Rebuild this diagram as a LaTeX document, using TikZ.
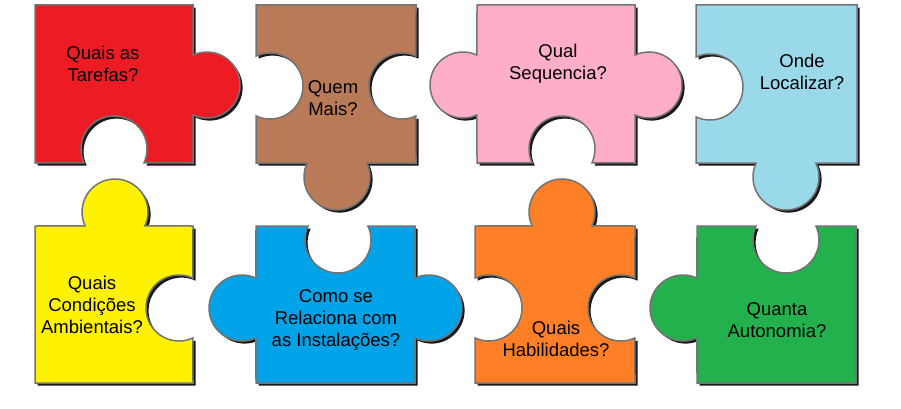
\documentclass[tikz,border=0pt]{standalone}
\usepackage{fontspec}
\setmainfont{Liberation Sans}
\usetikzlibrary{calc,shadows}
\tikzset{
  piece/.style={fill=#1, draw=black!55, line width=1.5pt,
    drop shadow={shadow xshift=2.6pt, shadow yshift=-2.6pt, fill=black!90, opacity=1}},
  jigtab/.style 2 args={insert path={-- ($(#1)+(#2-115:33)$) arc[start angle=#2-115, end angle=#2+115, radius=33]}},
  jignotch/.style 2 args={insert path={-- ($(#1)+(#2-65:33)$) arc[start angle=#2-65, end angle=#2-295, radius=33]}},
  question/.style={align=center, font=\fontsize{18.5}{22}\selectfont},
}
\begin{document}
\begin{tikzpicture}[x=1pt,y=1pt]
\definecolor{color1}{RGB}{237,28,36}
\definecolor{color2}{RGB}{185,122,87}
\definecolor{color3}{RGB}{255,174,201}
\definecolor{color4}{RGB}{153,217,234}
\definecolor{color5}{RGB}{255,242,0}
\definecolor{color6}{RGB}{0,162,232}
\definecolor{color7}{RGB}{255,127,39}
\definecolor{color8}{RGB}{34,177,76}
\useasboundingbox (0,0) rectangle (901,408);
% top row
\draw[piece=color1] (35,245) [jignotch={114,259}{-90}] -- (193,245) [jigtab={207,323}{0}] -- (193,403) -- (35,403) -- cycle;
\draw[piece=color2] (256,245) [jigtab={337,231}{-90}] -- (416,245) [jignotch={402,322}{0}] -- (416,403) -- (256,403) [jignotch={270,322}{180}] -- cycle;
\draw[piece=color3] (477,245) [jignotch={562,259}{-90}] -- (635,245) [jigtab={649,323}{0}] -- (635,403) -- (477,403) [jigtab={463,323}{180}] -- cycle;
\draw[piece=color4] (696,245) [jigtab={786,231}{-90}] -- (857,245) -- (857,403) -- (696,403) [jignotch={710,321}{180}] -- cycle;
% bottom row
\draw[piece=color5] (35,25) -- (193,25) [jignotch={179,100}{0}] -- (193,182) [jigtab={115,196}{90}] -- (35,182) -- cycle;
\draw[piece=color6] (256,25) -- (415,25) [jigtab={429,100}{0}] -- (415,182) [jignotch={338,168}{90}] -- (256,182) [jigtab={242,100}{180}] -- cycle;
\draw[piece=color7] (475,25) -- (635,25) [jignotch={621,100}{0}] -- (635,182) [jigtab={562,196}{90}] -- (475,182) [jignotch={489,100}{180}] -- cycle;
\draw[piece=color8] (697,25) -- (856,25) -- (856,182) [jignotch={786,168}{90}] -- (697,182) [jigtab={683,100}{180}] -- cycle;
% questions
\node[question] (tarefas) at (103,344) {Quais as\\Tarefas?};
\node[question] (quem) at (333,310) {Quem\\Mais?};
\node[question] (sequencia) at (558,344) {Qual\\Sequencia?};
\node[question] (onde) at (802,336) {Onde\\Localizar?};
\node[question] (condicoes) at (92,103) {Quais\\Condições\\Ambientais?};
\node[question] (instalacoes) at (336,88) {Como se\\Relaciona com\\as Instalações?};
\node[question] (habilidades) at (556,69) {Quais\\Habilidades?};
\node[question] (autonomia) at (777,88) {Quanta\\Autonomia?};
\end{tikzpicture}
\end{document}
